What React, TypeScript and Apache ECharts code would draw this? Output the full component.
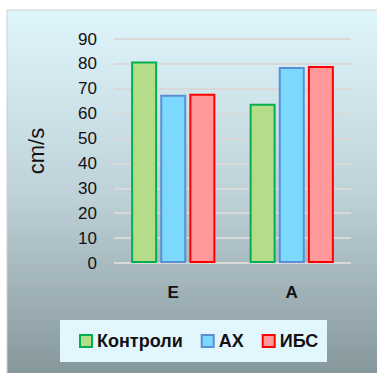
import React, { useEffect, useRef } from "react";
import * as echarts from "echarts";

const categories = ["E", "A"];
const seriesNames = ["Контроли", "АХ", "ИБС"];
const controlValues = [81, 64];
const ahValues = [67.6, 78.8];
const ibsValues = [68, 79.2];
const yTicks = [0, 10, 20, 30, 40, 50, 60, 70, 80, 90];

const fills = ["#b5dc88", "#7dd8fd", "#ff9898"];
const borders = ["#00b050", "#5a8ed6", "#ff0000"];

export default function App() {
  const ref = useRef<HTMLDivElement>(null);
  useEffect(() => {
    if (!ref.current) return;
    const chart = echarts.init(ref.current, null, { renderer: "svg" });
    const values = [controlValues, ahValues, ibsValues];
    const font = "'Liberation Sans', Arial, sans-serif";
    chart.setOption({
      animation: false,
      backgroundColor: "#ffffff",
      graphic: [
        {
          type: "rect",
          z: -10,
          shape: { x: 7, y: 10, width: 372, height: 365 },
          style: {
            fill: new echarts.graphic.LinearGradient(0, 0, 0, 1, [
              { offset: 0, color: "#dff5fc" },
              { offset: 0.5, color: "#bfd2d9" },
              { offset: 1, color: "#85979b" },
            ]),
            stroke: "#d0d0d0",
            lineWidth: 1,
          },
        },
        {
          type: "rect",
          z: -5,
          shape: { x: 60, y: 320, width: 267, height: 42 },
          style: { fill: "#e2f6fd" },
        },
      ],
      grid: { left: 114, right: 26, top: 39, bottom: 110, containLabel: false },
      legend: {
        left: 79,
        top: 331,
        padding: 0,
        icon: "rect",
        itemWidth: 12,
        itemHeight: 12,
        itemGap: 18,
        textStyle: { fontFamily: font, fontSize: 18, fontWeight: "bold", color: "#111", lineHeight: 20 },
        data: seriesNames.map((n, i) => ({
          name: n,
          itemStyle: { color: fills[i], borderColor: borders[i], borderWidth: 2 },
        })),
      },
      xAxis: {
        type: "category",
        data: categories,
        axisLine: { show: false },
        axisTick: { show: false },
        axisLabel: { fontFamily: font, fontSize: 17, fontWeight: "bold", color: "#111", margin: 21 },
      },
      yAxis: {
        type: "value",
        min: yTicks[0],
        max: yTicks[yTicks.length - 1],
        interval: 10,
        name: "cm/s",
        nameLocation: "middle",
        nameGap: 67,
        nameTextStyle: { fontFamily: font, fontSize: 22, color: "#111" },
        axisLine: { show: false },
        axisTick: { show: false },
        axisLabel: { fontFamily: font, fontSize: 17, color: "#111", margin: 17 },
        splitLine: { lineStyle: { color: "#d9d9d9", width: 2 } },
      },
      series: seriesNames.map((n, i) => ({
        name: n,
        type: "bar",
        data: values[i],
        barWidth: 26,
        barGap: "12%",
        itemStyle: { color: fills[i], borderColor: borders[i], borderWidth: 2 },
      })),
    });
    return () => chart.dispose();
  }, []);
  return (
    <div
      ref={ref}
      style={{ position: "fixed", left: 0, top: 0, width: 377, height: 373 }}
    />
  );
}
